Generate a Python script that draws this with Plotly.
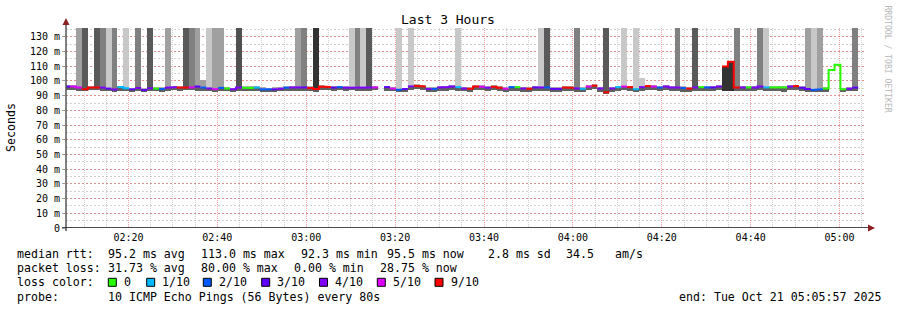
import numpy as np
import pandas as pd
import plotly.graph_objects as go

nan = float("nan")

# ---------------- data ----------------
step_start = "2025-10-21 02:05:32"   # start of first 80 s RRD step
step_seconds = 80
view_start = "2025-10-21 02:05:57"
view_end = "2025-10-21 05:05:57"

median_ms = [
    96.2, 96.3, 95.5, 94.4, 95.5, 95.5, 95.5, 94.8, 94.2, 95.8,
    95.0, 94.3, 95.2, 93.8, 95.0, 94.8, 94.5, 95.3, 95.8, 95.5,
    95.5, 95.6, 96.2, 95.5, 94.9, 94.4, 95.3, 94.9, 94.3, 95.6,
    95.4, 95.2, 95.5, 94.3, 94.3, 94.3, 94.7, 95.4, 95.6, 95.6,
    95.6, 95.2, 94.6, 96.2, 95.8, 95.5, 95.8, 95.3, 95.5, 95.5,
    95.5, 95.5, 95.6, nan, 95.8, 94.8, 94.0, 94.5, 96.3, 96.8,
    96.3, 94.6, 94.6, 95.6, 95.8, 96.2, 95.8, 94.9, 94.7, 96.2,
    96.1, 95.4, 96.1, 95.4, 94.7, 95.8, 95.8, 94.9, 94.7, 95.6,
    95.6, 95.6, 94.6, 94.6, 95.6, 95.4, 94.9, 94.6, 96.2, 96.8,
    94.9, 92.3, 94.9, 95.8, 96.2, 95.8, 94.4, 95.8, 96.5, 96.2,
    95.5, 96.2, 95.6, 95.6, 95.2, 94.8, 95.6, 95.8, 95.6, 95.6,
    96.2, 109.8, 113.0, 95.6, 95.6, 95.6, 95.6, 96.2, 95.6, 95.6,
    95.6, 95.6, 96.2, 96.5, 95.3, 94.5, 93.9, 94.4, 94.9, 107.5,
    111.0, 94.4, 94.7, 95.5,
]

# loss in tenths (colour class)
loss_idx = [
    3, 5, 5, 9, 9, 9, 4, 3, 4, 1,
    1, 3, 4, 3, 4, 0, 2, 4, 4, 9,
    9, 5, 3, 2, 4, 5, 2, 0, 4, 4,
    0, 0, 1, 2, 2, 3, 4, 2, 4, 4,
    3, 9, 9, 9, 9, 3, 2, 4, 4, 4,
    4, 4, 5, 9, 3, 5, 2, 3, 4, 9,
    9, 4, 2, 4, 4, 4, 1, 4, 9, 9,
    5, 4, 9, 9, 5, 2, 0, 4, 9, 3,
    4, 2, 3, 3, 9, 9, 4, 1, 5, 9,
    4, 9, 4, 1, 5, 9, 1, 4, 9, 5,
    2, 4, 4, 4, 2, 9, 4, 0, 2, 3,
    4, 9, 9, 9, 4, 0, 4, 4, 1, 0,
    0, 0, 4, 9, 3, 3, 2, 2, 0, 0,
    0, 0, 4, 3,
]

smoke_lo = [
    93.8, 94.0, 93.5, 93.2, 93.8, 93.6, 93.4, 93.0, 92.8, 93.2,
    93.0, 92.6, 93.4, 92.6, 93.2, 93.0, 92.8, 93.5, 93.6, 93.2,
    93.6, 93.8, 93.2, 93.4, 93.0, 92.8, 93.2, 92.9, 92.6, 93.4,
    93.2, 93.2, 93.4, 92.6, 92.8, 92.8, 92.9, 93.2, 93.5, 93.4,
    93.4, 93.0, 92.8, 93.8, 93.6, 93.4, 93.6, 93.0, 93.6, 93.0,
    93.4, 93.0, 93.8, nan, 93.2, 93.0, 92.6, 92.8, 93.8, 94.2,
    94.0, 92.8, 92.8, 93.4, 93.5, 93.8, 93.2, 93.0, 92.8, 93.8,
    93.6, 93.2, 93.6, 93.0, 92.8, 93.4, 93.4, 92.8, 92.8, 93.2,
    93.4, 93.2, 92.6, 92.6, 93.4, 93.0, 92.8, 92.6, 93.8, 94.2,
    92.8, 91.6, 92.8, 93.4, 93.6, 93.4, 92.6, 93.4, 94.0, 93.6,
    93.0, 93.8, 93.2, 93.2, 92.8, 92.6, 93.2, 93.0, 93.2, 93.0,
    93.8, nan, nan, 93.2, 93.0, 93.0, 93.2, 93.8, 93.0, 93.0,
    93.2, 92.8, 93.6, 94.0, 93.0, 92.8, 92.4, 92.6, 92.8, nan,
    nan, 92.8, 93.0, 93.4,
]

smoke_hi = [
    96.8, 97.0, 96.4, 95.8, 96.2, 96.4, 96.6, 95.8, 95.4, 96.8,
    96.4, 95.2, 96.0, 95.0, 95.8, 95.8, 95.6, 96.2, 96.6, 96.2,
    96.4, 96.4, 97.0, 96.4, 95.8, 95.4, 96.4, 96.0, 95.2, 96.6,
    96.2, 96.0, 96.4, 95.6, 95.2, 95.6, 95.6, 96.4, 96.6, 96.4,
    96.2, 96.0, 95.6, 97.0, 96.6, 96.4, 96.6, 96.0, 96.4, 96.6,
    96.2, 96.2, 96.4, nan, 96.6, 95.8, 95.0, 95.4, 97.0, 97.6,
    97.0, 95.6, 95.6, 96.4, 96.6, 97.0, 96.6, 95.8, 95.6, 97.0,
    96.8, 96.2, 96.8, 96.2, 95.6, 96.6, 96.4, 95.8, 95.6, 96.4,
    96.4, 96.4, 95.6, 95.4, 96.4, 96.2, 95.8, 95.4, 97.0, 97.6,
    95.8, 93.6, 95.8, 96.6, 97.0, 96.6, 95.2, 96.6, 97.2, 97.0,
    96.2, 97.0, 96.4, 96.4, 96.0, 95.6, 96.4, 96.6, 96.4, 96.4,
    97.0, nan, nan, 96.4, 96.4, 96.4, 96.4, 97.0, 96.4, 96.4,
    96.4, 96.4, 97.0, 97.2, 96.0, 95.4, 94.8, 95.2, 95.8, nan,
    nan, 95.2, 95.4, 96.2,
]

# steps where smoke reaches far above the median (off-scale = 140)
tall_step = [2, 3, 5, 6, 7, 8, 10, 12, 14, 17,
             20, 21, 22, 23, 24, 25, 26, 29, 39, 40,
             42, 48, 49, 50, 51, 56, 58, 66, 80, 81,
             86, 91, 94, 96, 97, 103, 106, 111, 112, 113,
             117, 118, 125, 126, 127, 133]
tall_base = [95.5, 94.4, 95.5, 95.5, 94.8, 94.2, 95.0, 95.2, 95.0, 95.3,
             95.5, 95.6, 96.2, 95.5, 94.9, 94.4, 95.3, 95.6, 95.6, 95.6,
             94.6, 95.5, 95.5, 95.5, 95.5, 94.0, 96.3, 95.8, 95.6, 95.6,
             94.9, 92.3, 96.2, 94.4, 95.8, 95.6, 95.6, 93.5, 93.5, 95.6,
             96.2, 95.6, 94.5, 93.9, 94.4, 95.5]
tall_top = [140, 140, 140, 140, 140, 140, 140, 140, 140, 140,
            140, 140, 140, 100.5, 140, 140, 140, 140, 140, 140,
            140, 140, 140, 140, 140, 140, 140, 140, 140, 140,
            140, 140, 140, 140, 102.0, 140, 140, 109.8, 113.0, 140,
            140, 140, 140, 140, 140, 140]
tall_gray = ["#a0a0a0", "#5a5a5a", "#5a5a5a", "#808080", "#c8c8c8", "#808080", "#c8c8c8", "#808080", "#5a5a5a", "#a0a0a0",
             "#5a5a5a", "#808080", "#a0a0a0", "#a0a0a0", "#c8c8c8", "#a0a0a0", "#a0a0a0", "#505050", "#a0a0a0", "#808080",
             "#333333", "#c8c8c8", "#808080", "#c8c8c8", "#5a5a5a", "#c8c8c8", "#c8c8c8", "#c8c8c8", "#c8c8c8", "#5a5a5a",
             "#808080", "#5a5a5a", "#c8c8c8", "#c8c8c8", "#c8c8c8", "#808080", "#5a5a5a", "#333333", "#333333", "#808080",
             "#808080", "#c8c8c8", "#a0a0a0", "#c8c8c8", "#a0a0a0", "#808080"]

outline_step = [129, 130]
outline_base = 94.0

loss_levels = [0, 1, 2, 3, 4, 5, 9]
loss_labels = ["0", "1/10", "2/10", "3/10", "4/10", "5/10", "9/10"]
loss_colors = ["#26ff00", "#00b8ff", "#0059ff", "#5e00ff", "#7e00ff", "#dd00ff", "#ff0000"]

y_tickvals = [0, 10, 20, 30, 40, 50, 60, 70, 80, 90, 100, 110, 120, 130]
y_ticktext = ["0", "10 m", "20 m", "30 m", "40 m", "50 m", "60 m", "70 m",
              "80 m", "90 m", "100 m", "110 m", "120 m", "130 m"]

title_text = "Last 3 Hours"
y_title = "Seconds"
watermark = "RRDTOOL / TOBI OETIKER"
rtt_stats = ["median rtt:", "95.2 ms avg", "113.0 ms max", "92.3 ms min",
             "95.5 ms now", "2.8 ms sd", "34.5", "am/s"]
loss_stats = ["packet loss:", "31.73 % avg", "80.00 % max", "0.00 % min", "28.75 % now"]
probe_text = ["probe:", "10 ICMP Echo Pings (56 Bytes) every 80s"]
end_text = "end: Tue Oct 21 05:05:57 2025"

# ---------------- layout geometry (pixels) ----------------
W, H = 897, 310
PL, PR, PT, PB = 66, 866, 28, 228


def px(x):
    return (x - PL) / (PR - PL)


def py(y):
    return (PB - y) / (PB - PT)


MONO = "DejaVu Sans Mono"

# ---------------- derived step times (ISO strings) ----------------
n = len(median_ms)
t_start = pd.Timestamp(step_start)
FMT = "%Y-%m-%d %H:%M:%S"
starts = [(t_start + pd.Timedelta(seconds=step_seconds * i)).strftime(FMT) for i in range(n)]
ends = [(t_start + pd.Timedelta(seconds=step_seconds * (i + 1))).strftime(FMT) for i in range(n)]
centers = [(t_start + pd.Timedelta(seconds=step_seconds * i + step_seconds / 2)).strftime(FMT) for i in range(n)]
wms = step_seconds * 1000


def ok(*vals):
    return all(not (isinstance(v, float) and np.isnan(v)) for v in vals)


up_x, up_b, up_h = [], [], []
dn_x, dn_b, dn_h = [], [], []
for i in range(n):
    m, l, h = median_ms[i], smoke_lo[i], smoke_hi[i]
    if ok(m, h):
        up_x.append(centers[i]); up_b.append(m); up_h.append(h - m)
    if ok(m, l):
        dn_x.append(centers[i]); dn_b.append(l); dn_h.append(m - l)

fig = go.Figure()

# upper smoke (median -> hi)
fig.add_trace(go.Bar(x=up_x, base=up_b, y=up_h, width=wms,
                     marker=dict(color="#b0b0b0", line=dict(width=0)),
                     showlegend=False, hoverinfo="skip"))
# tall smoke
fig.add_trace(go.Bar(x=[centers[s] for s in tall_step], base=tall_base,
                     y=[t - b for t, b in zip(tall_top, tall_base)], width=wms,
                     marker=dict(color=tall_gray, line=dict(width=0)),
                     showlegend=False, hoverinfo="skip"))
# lower smoke (lo -> median)
fig.add_trace(go.Bar(x=dn_x, base=dn_b, y=dn_h, width=wms,
                     marker=dict(color="#606060", line=dict(width=0)),
                     showlegend=False, hoverinfo="skip"))

# outline of the jump near the end
a, b = outline_step
fig.add_trace(go.Scatter(
    x=[starts[a], starts[a], starts[b], starts[b], ends[b], ends[b]],
    y=[outline_base, median_ms[a], median_ms[a], median_ms[b], median_ms[b], outline_base],
    mode="lines", line=dict(color="#000000", width=1),
    showlegend=False, hoverinfo="skip"))

# median line coloured by loss
for lev, col in zip(loss_levels, loss_colors):
    xs, ys = [], []
    for i in range(n):
        if loss_idx[i] == lev and ok(median_ms[i]):
            xs += [starts[i], ends[i]]
            ys += [median_ms[i], median_ms[i]]
            nxt_same = (i + 1 < n and loss_idx[i + 1] == lev and ok(median_ms[i + 1]))
            if not nxt_same:
                xs.append(None)
                ys.append(None)
    fig.add_trace(go.Scatter(x=xs, y=ys, mode="lines",
                             line=dict(color=col, width=2),
                             showlegend=False, hoverinfo="skip"))

MAJOR = "rgba(235,90,90,0.55)"
MINOR = "rgba(150,150,150,0.45)"

fig.update_layout(
    width=W, height=H,
    margin=dict(l=PL, r=W - PR, t=PT, b=H - PB, pad=0),
    paper_bgcolor="#ffffff", plot_bgcolor="#ffffff",
    barmode="overlay", bargap=0,
    showlegend=False,
    font=dict(family=MONO, size=10, color="#000000"),
    xaxis=dict(
        type="date", range=[view_start, view_end], autorange=False, automargin=False,
        tick0="2025-10-21 00:00:00", dtick=20 * 60 * 1000, tickformat="%H:%M",
        showgrid=True, gridcolor=MAJOR, griddash="1px,1px", gridwidth=1,
        minor=dict(dtick=5 * 60 * 1000, tick0="2025-10-21 00:00:00",
                   showgrid=True, gridcolor=MINOR, griddash="1px,1px", gridwidth=1),
        zeroline=False, showline=False, ticks="", ticklabelstandoff=2,
    ),
    yaxis=dict(
        type="linear", range=[0, 136], autorange=False, automargin=False,
        tickvals=y_tickvals, ticktext=y_ticktext,
        showgrid=True, gridcolor=MAJOR, griddash="2px,2px", gridwidth=1,
        minor=dict(dtick=5, showgrid=True, gridcolor=MINOR, griddash="2px,2px", gridwidth=1),
        zeroline=False, showline=False, ticks="outside", ticklen=3, tickcolor="#a0a0a0",
    ),
)

shapes = []
# axes (bottom axis is tied to the data value 0)
shapes.append(dict(type="line", xref="paper", yref="paper",
                   x0=px(66), x1=px(66), y0=py(231), y1=py(24),
                   line=dict(color="#555555", width=1.5)))
shapes.append(dict(type="line", xref="paper", yref="y",
                   x0=px(62), x1=px(869), y0=0, y1=0,
                   line=dict(color="#111111", width=1.5)))
# arrows
shapes.append(dict(type="path", xref="paper", yref="paper",
                   path=f"M {px(62.5)},{py(25)} L {px(69.5)},{py(25)} L {px(66)},{py(18)} Z",
                   fillcolor="#8b2020", line=dict(width=0)))
shapes.append(dict(type="path", xref="paper", yref="paper",
                   path=f"M {px(868)},{py(224.5)} L {px(868)},{py(231.5)} L {px(875)},{py(228)} Z",
                   fillcolor="#8b2020", line=dict(width=0)))

annotations = []


def txt(s, x, y, size=11.6, anchor="left", color="#000000", angle=0):
    annotations.append(dict(text=s, x=px(x), y=py(y), xref="paper", yref="paper",
                            xanchor=anchor, yanchor="middle", showarrow=False,
                            textangle=angle, borderpad=0,
                            font=dict(family=MONO, size=size, color=color)))


txt(title_text, 448, 20, size=13, anchor="center")
txt(y_title, 11, 127, size=11.6, anchor="center", angle=-90)
txt(watermark, 887.5, 59, size=8.1, anchor="center", color="#b8b8b8", angle=90)

row_y = [254.3, 268.3, 282.3, 296.7]
rtt_x = [16, 107.3, 200, 299.5, 386, 487, 565, 614]
for s, x in zip(rtt_stats, rtt_x):
    txt(s, x, row_y[0])
loss_x = [16, 107.3, 200, 292.5, 379.3]
for s, x in zip(loss_stats, loss_x):
    txt(s, x, row_y[1])
txt("loss color:", 16, row_y[2])
box_x = [108.3, 146.7, 203.3, 261.7, 319.5, 377.3, 435.0]
label_x = [123.3, 160.7, 218.3, 276.0, 334.0, 391.7, 450.0]
for lab, col, bx, lx in zip(loss_labels, loss_colors, box_x, label_x):
    shapes.append(dict(type="rect", xref="paper", yref="paper",
                       x0=px(bx), x1=px(bx + 8), y0=py(row_y[2] + 4), y1=py(row_y[2] - 4),
                       fillcolor=col, line=dict(color="#000000", width=1)))
    txt(lab, lx, row_y[2])
txt(probe_text[0], 16, row_y[3])
txt(probe_text[1], 107.3, row_y[3])
txt(end_text, 678, row_y[3])

fig.update_layout(shapes=shapes, annotations=annotations)
fig.write_html("out.html")
